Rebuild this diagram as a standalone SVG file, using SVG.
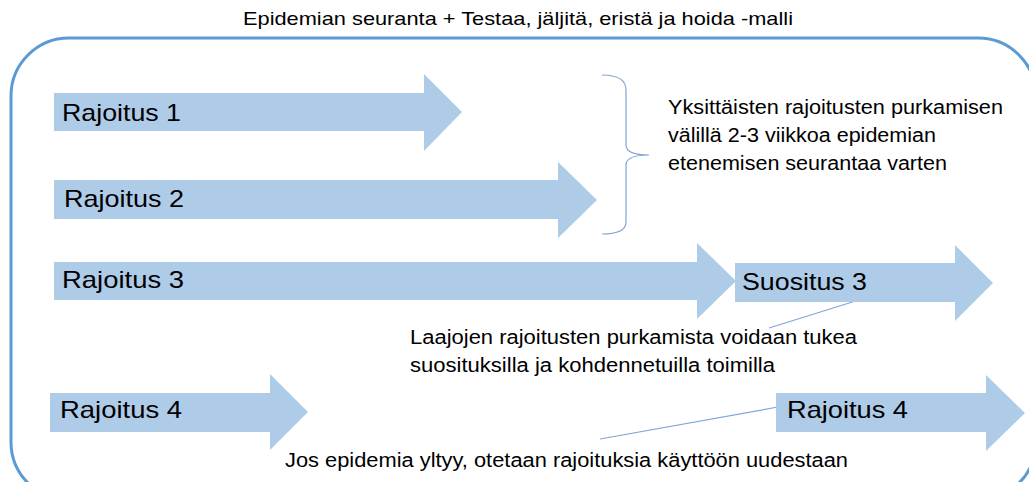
<svg xmlns="http://www.w3.org/2000/svg" width="1029" height="482" viewBox="0 0 1029 482">
<style>
.arrow{fill:#AECBE8;stroke:none}
.lbl{font-family:"Liberation Sans",Arial,sans-serif;font-size:24px;fill:#000}
.txt{font-family:"Liberation Sans",Arial,sans-serif;font-size:20px;fill:#000}
.call{stroke:#7FA6D6;stroke-width:1.2;fill:none}
</style>
<rect width="1029" height="482" fill="#fff"/>
<text class="txt" x="243" y="25" textLength="550" lengthAdjust="spacingAndGlyphs" style="font-size:19px">Epidemian seuranta + Testaa, jäljitä, eristä ja hoida -malli</text>
<g id="container"><rect x="11" y="38" width="1025" height="462" rx="58" ry="58" fill="none" stroke="#5B9BD5" stroke-width="3"/></g>
<g id="connectors">
<path class="call" d="M602 75 Q626 75 626 90 L626 145 Q626 155 649 155 Q626 155 626 165 L626 222 Q626 234 602 234"/>
<line class="call" x1="862" y1="299" x2="769" y2="328"/>
<line class="call" x1="778" y1="407" x2="600" y2="439"/>
</g>
<g id="r1"><path class="arrow" d="M54 93 H424 V74 L462 112 L424 151 V131 H54 Z"/><text class="lbl" x="62" y="121" textLength="119" lengthAdjust="spacingAndGlyphs">Rajoitus 1</text></g>
<g id="r2"><path class="arrow" d="M54 180 H558 V162 L597 200 L558 238 V219 H54 Z"/><text class="lbl" x="64" y="207" textLength="120" lengthAdjust="spacingAndGlyphs">Rajoitus 2</text></g>
<g id="r3"><path class="arrow" d="M54 262 H697 V243 L736 281 L697 319 V300 H54 Z"/><text class="lbl" x="62" y="288" textLength="122" lengthAdjust="spacingAndGlyphs">Rajoitus 3</text></g>
<g id="s3"><path class="arrow" d="M735 263 H955 V245 L993 283 L955 321 V302 H735 Z"/><text class="lbl" x="742" y="290" textLength="125" lengthAdjust="spacingAndGlyphs">Suositus 3</text></g>
<g id="r4a"><path class="arrow" d="M50 393 H270 V374 L308 412 L270 450 V432 H50 Z"/><text class="lbl" x="60" y="418" textLength="122" lengthAdjust="spacingAndGlyphs">Rajoitus 4</text></g>
<g id="r4b"><path class="arrow" d="M776 393 H986 V375 L1025 413 L986 451 V432 H776 Z"/><text class="lbl" x="787" y="418" textLength="121" lengthAdjust="spacingAndGlyphs">Rajoitus 4</text></g>
<g id="note1"><text class="txt" x="668" y="114" textLength="335" lengthAdjust="spacingAndGlyphs">Yksittäisten rajoitusten purkamisen</text><text class="txt" x="668" y="142" textLength="268" lengthAdjust="spacingAndGlyphs">välillä 2-3 viikkoa epidemian</text><text class="txt" x="668" y="170" textLength="279" lengthAdjust="spacingAndGlyphs">etenemisen seurantaa varten</text></g>
<g id="note2"><text class="txt" x="410" y="344" textLength="447" lengthAdjust="spacingAndGlyphs">Laajojen rajoitusten purkamista voidaan tukea</text><text class="txt" x="410" y="372" textLength="365" lengthAdjust="spacingAndGlyphs">suosituksilla ja kohdennetuilla toimilla</text></g>
<g id="note3"><text class="txt" x="285" y="467" textLength="563" lengthAdjust="spacingAndGlyphs">Jos epidemia yltyy, otetaan rajoituksia käyttöön uudestaan</text></g>
</svg>
